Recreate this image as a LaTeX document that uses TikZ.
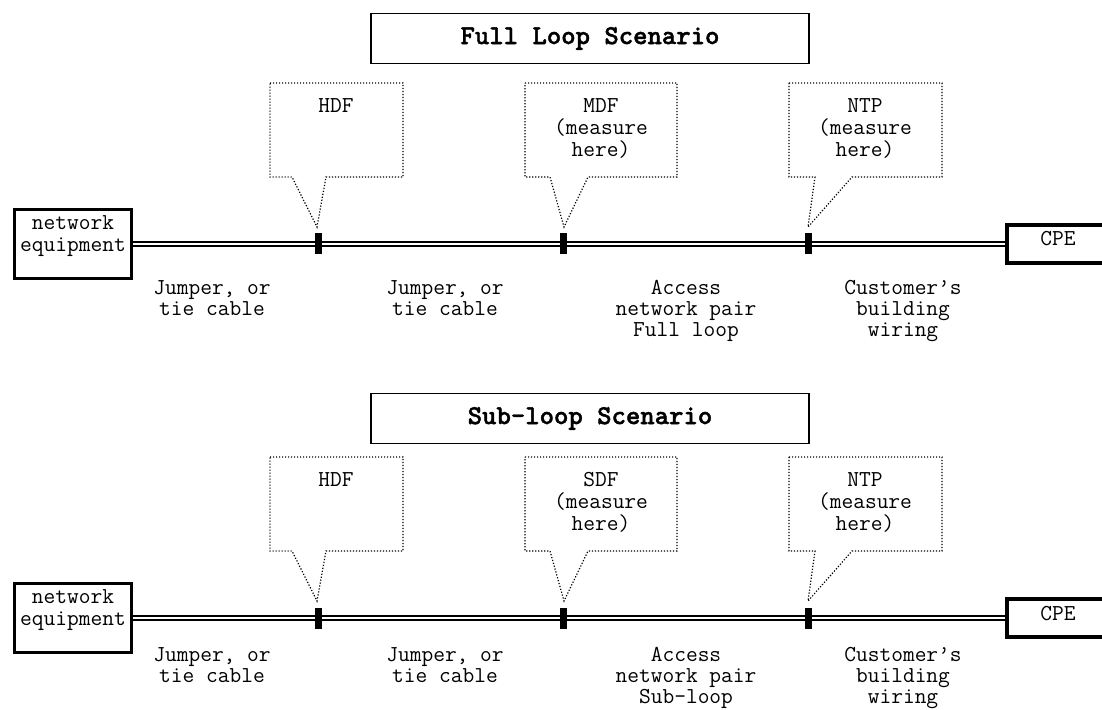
\documentclass[tikz,border=0pt]{standalone}
\usepackage{fontspec}
\newfontfamily\headfont{lmmonolt10-bold.otf}[RawFeature={embolden=1.5}]

\begin{document}
\begin{tikzpicture}[x=0.5pt, y=-0.5pt,
  txt/.style={font=\ttfamily\fontsize{11.4pt}{11pt}\selectfont, align=center, inner sep=0pt},
  boxtext/.style={txt, anchor=north},
  cabletext/.style={boxtext, font=\ttfamily\fontsize{11.4pt}{10.5pt}\selectfont},
  title/.style={draw, line width=0.8pt, minimum width=219pt, minimum height=25pt, inner sep=0pt,
    font=\headfont\fontsize{13.7pt}{15pt}\selectfont},
  eqbox/.style={draw, line width=1.6pt, minimum width=58.5pt, minimum height=34.5pt},
  cpebox/.style={draw, line width=1.6pt, minimum width=51pt, minimum height=19pt},
  pair/.style={double, line width=1.25pt, double distance=0.9pt},
  joint/.style={fill=black, inner sep=0pt, minimum width=3.5pt, minimum height=10.5pt},
  callout/.style={line width=0.6pt, dash pattern=on 0.6pt off 0.9pt}]
  \useasboundingbox (0,0) rectangle (1102,710);

  % Full loop: nodes
  \node[title] (title1) at (590,38.5) {Full Loop Scenario};
  \node[eqbox, label={[txt, anchor=north, yshift=-3.5pt]north:network\\equipment}] (neq1) at (73,244) {};
  \node[cpebox, label={[txt, anchor=north, yshift=-4pt]north:CPE}] (cpe1) at (1058,244) {};

  % Full loop: pair
  \draw[pair] (neq1.east) -- (cpe1.west);
  \node[joint] (hdf1) at (318,244) {};
  \node[joint] (mdf1) at (563,244) {};
  \node[joint] (ntp1) at (808,244) {};

  % Full loop: callouts
  \coordinate (hdftip1) at (317,227);
  \coordinate (mdftip1) at (564,227);
  \coordinate (ntptip1) at (808,227);
  \node[boxtext] (hdftxt1) at (336,98) {HDF};
  \node[boxtext] (mdftxt1) at (601,98) {MDF\\(measure\\here)};
  \node[boxtext] (ntptxt1) at (865,98) {NTP\\(measure\\here)};
  \draw[callout] (270,83) -- (403,83) -- (403,177) -- (326,177) -- (hdftip1) -- (292,177) -- (270,177) -- cycle;
  \draw[callout] (525,83) -- (677,83) -- (677,177) -- (588,177) -- (mdftip1) -- (550,177) -- (525,177) -- cycle;
  \draw[callout] (789,83) -- (942,83) -- (942,177) -- (852,177) -- (ntptip1) -- (815,177) -- (789,177) -- cycle;

  % Full loop: cable labels
  \node[cabletext] (jmp1a) at (212,280) {Jumper, or\\tie cable};
  \node[cabletext] (jmp1b) at (445,280) {Jumper, or\\tie cable};
  \node[cabletext] (acc1) at (686,280) {Access\\network pair\\Full loop};
  \node[cabletext] (bldg1) at (903,280) {Customer’s\\building\\wiring};

  % Sub-loop: nodes
  \node[title] (title2) at (590,418.5) {Sub-loop Scenario};
  \node[eqbox, label={[txt, anchor=north, yshift=-3.5pt]north:network\\equipment}] (neq2) at (73,618) {};
  \node[cpebox, label={[txt, anchor=north, yshift=-4pt]north:CPE}] (cpe2) at (1058,618) {};

  % Sub-loop: pair
  \draw[pair] (neq2.east) -- (cpe2.west);
  \node[joint] (hdf2) at (318,618) {};
  \node[joint] (sdf2) at (563,618) {};
  \node[joint] (ntp2) at (808,618) {};

  % Sub-loop: callouts
  \coordinate (hdftip2) at (317,601);
  \coordinate (sdftip2) at (564,601);
  \coordinate (ntptip2) at (808,601);
  \node[boxtext] (hdftxt2) at (336,472) {HDF};
  \node[boxtext] (sdftxt2) at (601,472) {SDF\\(measure\\here)};
  \node[boxtext] (ntptxt2) at (865,472) {NTP\\(measure\\here)};
  \draw[callout] (270,457) -- (403,457) -- (403,551) -- (326,551) -- (hdftip2) -- (292,551) -- (270,551) -- cycle;
  \draw[callout] (525,457) -- (677,457) -- (677,551) -- (588,551) -- (sdftip2) -- (550,551) -- (525,551) -- cycle;
  \draw[callout] (789,457) -- (942,457) -- (942,551) -- (852,551) -- (ntptip2) -- (815,551) -- (789,551) -- cycle;

  % Sub-loop: cable labels
  \node[cabletext] (jmp2a) at (212,647) {Jumper, or\\tie cable};
  \node[cabletext] (jmp2b) at (445,647) {Jumper, or\\tie cable};
  \node[cabletext] (acc2) at (686,647) {Access\\network pair\\Sub-loop};
  \node[cabletext] (bldg2) at (903,647) {Customer’s\\building\\wiring};
\end{tikzpicture}
\end{document}
